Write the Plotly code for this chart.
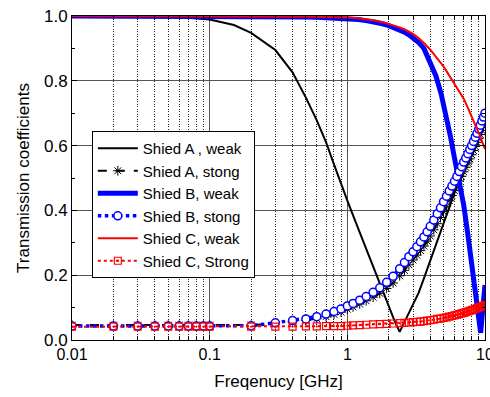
import plotly.graph_objects as go

# Frequency grid (GHz) for the continuous "weak" curves
freq_weak = [0.01, 0.02, 0.05, 0.1, 0.15, 0.2, 0.3, 0.4, 0.5, 0.6, 0.7, 0.8, 0.9,
             1.0, 1.2, 1.4, 1.6, 1.8, 2.0, 2.2, 2.4, 2.6, 2.8, 3.0, 3.3, 3.6,
             4.0, 4.4, 4.8, 5.2, 5.6, 6.0, 6.5, 7.0, 7.5, 8.0, 8.5, 9.0, 9.3, 9.6, 10.0]

a_weak = [1.0, 1.0, 0.999, 0.989, 0.972, 0.948, 0.895, 0.826, 0.748, 0.678, 0.611, 0.542, 0.482,
          0.43, 0.344, 0.271, 0.208, 0.152, 0.102, 0.06, 0.025, 0.056, 0.083, 0.109, 0.146, 0.19,
          0.245, 0.295, 0.341, 0.384, 0.422, 0.46, 0.495, 0.528, 0.559, 0.586, 0.613, 0.639, 0.653, 0.667, 0.685]

b_weak = [1.0, 1.0, 1.0, 1.0, 1.0, 1.0, 0.999, 0.998, 0.997, 0.996, 0.995, 0.994, 0.993,
          0.992, 0.989, 0.985, 0.981, 0.976, 0.97, 0.964, 0.957, 0.95, 0.942, 0.933, 0.918, 0.9,
          0.86, 0.815, 0.76, 0.697, 0.63, 0.562, 0.49, 0.417, 0.327, 0.24, 0.157, 0.08, 0.022, 0.09, 0.17]

c_weak = [1.0, 1.0, 1.0, 1.0, 1.0, 1.0, 1.0, 0.999, 0.999, 0.998, 0.997, 0.997, 0.996,
          0.995, 0.993, 0.99, 0.986, 0.981, 0.976, 0.971, 0.965, 0.959, 0.952, 0.945, 0.931, 0.917,
          0.896, 0.875, 0.854, 0.833, 0.812, 0.791, 0.768, 0.745, 0.717, 0.69, 0.665, 0.64, 0.625, 0.608, 0.59]

# Frequency grid (GHz) for the sampled "strong" curves
freq_strong = [0.01, 0.02, 0.03, 0.04, 0.05, 0.06, 0.07, 0.08, 0.09, 0.1,
               0.2, 0.3, 0.4, 0.5, 0.6, 0.7, 0.8, 0.9, 1.0,
               1.1, 1.23, 1.37, 1.54, 1.72, 1.93, 2.15, 2.4,
               2.6, 2.8, 3.0, 3.2, 3.4, 3.6, 3.8, 4.0,
               4.25, 4.5, 4.75, 5.0, 5.25, 5.5, 5.75, 6.0, 6.25, 6.5, 6.75, 7.0,
               7.25, 7.5, 7.75, 8.0, 8.25, 8.5, 8.75, 9.0, 9.25, 9.5, 9.75, 10.0]

a_strong = [0.046, 0.046, 0.046, 0.046, 0.046, 0.046, 0.046, 0.046, 0.046, 0.046,
            0.046, 0.05, 0.056, 0.06, 0.066, 0.072, 0.079, 0.086, 0.095,
            0.102, 0.111, 0.121, 0.132, 0.144, 0.159, 0.176, 0.198,
            0.215, 0.232, 0.247, 0.262, 0.276, 0.29, 0.305, 0.321,
            0.34, 0.359, 0.378, 0.396, 0.413, 0.43, 0.446, 0.461, 0.476, 0.491, 0.505, 0.519,
            0.533, 0.546, 0.559, 0.572, 0.585, 0.597, 0.61, 0.622, 0.634, 0.647, 0.659, 0.672]

b_strong = [0.043, 0.043, 0.043, 0.043, 0.043, 0.043, 0.043, 0.043, 0.043, 0.043,
            0.044, 0.053, 0.06, 0.065, 0.072, 0.08, 0.088, 0.096, 0.105,
            0.113, 0.123, 0.134, 0.147, 0.161, 0.178, 0.197, 0.22,
            0.239, 0.257, 0.272, 0.288, 0.303, 0.318, 0.334, 0.351,
            0.37, 0.39, 0.408, 0.427, 0.444, 0.46, 0.475, 0.49, 0.505, 0.52, 0.535, 0.549,
            0.562, 0.575, 0.588, 0.60, 0.613, 0.626, 0.638, 0.651, 0.663, 0.676, 0.688, 0.70]

c_strong = [0.041, 0.041, 0.041, 0.041, 0.041, 0.041, 0.041, 0.041, 0.041, 0.041,
            0.041, 0.041, 0.041, 0.042, 0.042, 0.043, 0.043, 0.043, 0.044,
            0.045, 0.046, 0.047, 0.048, 0.049, 0.05, 0.051, 0.052,
            0.053, 0.054, 0.055, 0.056, 0.057, 0.058, 0.06, 0.061,
            0.063, 0.065, 0.066, 0.068, 0.07, 0.072, 0.074, 0.076, 0.078, 0.08, 0.082, 0.084,
            0.086, 0.088, 0.09, 0.092, 0.094, 0.096, 0.098, 0.1, 0.102, 0.104, 0.106, 0.108]

x_tickvals = [0.01, 0.1, 1, 10]
x_ticktext = ["0.01", "0.1", "1", "10"]

FONT = "Liberation Sans, Arial, sans-serif"

fig = go.Figure()

fig.add_trace(go.Scatter(x=freq_weak, y=a_weak, mode="lines", name="Shied A , weak",
                         line=dict(color="black", width=2)))
fig.add_trace(go.Scatter(x=freq_strong, y=a_strong, mode="lines+markers", name="Shied A, stong",
                         line=dict(color="black", width=2, dash="dash"),
                         marker=dict(symbol="asterisk-open", size=8, color="black",
                                     line=dict(color="black", width=1))))
fig.add_trace(go.Scatter(x=freq_weak, y=b_weak, mode="lines", name="Shied B, weak",
                         line=dict(color="#0000FF", width=5)))
fig.add_trace(go.Scatter(x=freq_strong, y=b_strong, mode="lines+markers", name="Shied B, stong",
                         line=dict(color="#0000FF", width=3.5, dash="dot"),
                         marker=dict(symbol="circle", size=8, color="white",
                                     line=dict(color="#0000FF", width=1.5))))
fig.add_trace(go.Scatter(x=freq_weak, y=c_weak, mode="lines", name="Shied C, weak",
                         line=dict(color="#FF0000", width=2)))
fig.add_trace(go.Scatter(x=freq_strong, y=c_strong, mode="lines+markers", name="Shied C, Strong",
                         line=dict(color="#FF0000", width=2, dash="dot"),
                         marker=dict(symbol="square-open-dot", size=7, color="#FF0000",
                                     line=dict(color="#FF0000", width=1.2))))

fig.update_layout(
    width=490, height=397,
    margin=dict(l=72, r=5, t=16, b=57),
    paper_bgcolor="white", plot_bgcolor="white",
    font=dict(family=FONT, size=16, color="black"),
    showlegend=True,
    legend=dict(x=0.048, y=0.645, xanchor="left", yanchor="top",
                bgcolor="white", bordercolor="black", borderwidth=1,
                font=dict(family=FONT, size=15, color="black"),
                tracegroupgap=0, itemwidth=40),
)

fig.update_xaxes(
    type="log", range=[-2, 1],
    tickvals=x_tickvals, ticktext=x_ticktext,
    ticks="inside", ticklen=5, tickcolor="black",
    showline=True, linecolor="black", linewidth=1, mirror="ticks",
    showgrid=True, gridcolor="#555555", gridwidth=1,
    minor=dict(dtick="D1", ticks="inside", ticklen=3, tickcolor="black",
               showgrid=True, gridcolor="#222222", griddash="1px,1.5px", gridwidth=1),
    tickfont=dict(size=16), ticklabeloverflow="allow",
    title=dict(text="Freqenucy [GHz]", font=dict(size=17), standoff=12),
    automargin=False, zeroline=False,
)

fig.update_yaxes(
    range=[0, 1.0], dtick=0.2, tick0=0, tickformat=".1f",
    ticks="inside", ticklen=5, tickcolor="black",
    showline=True, linecolor="black", linewidth=1, mirror="ticks",
    showgrid=True, gridcolor="#555555", gridwidth=1,
    minor=dict(dtick=0.1, ticks="inside", ticklen=3, tickcolor="black", showgrid=False),
    tickfont=dict(size=17),
    title=dict(text="Transmission coefficients", font=dict(size=17), standoff=10),
    automargin=False, zeroline=False,
)

fig.write_html("out.html")
